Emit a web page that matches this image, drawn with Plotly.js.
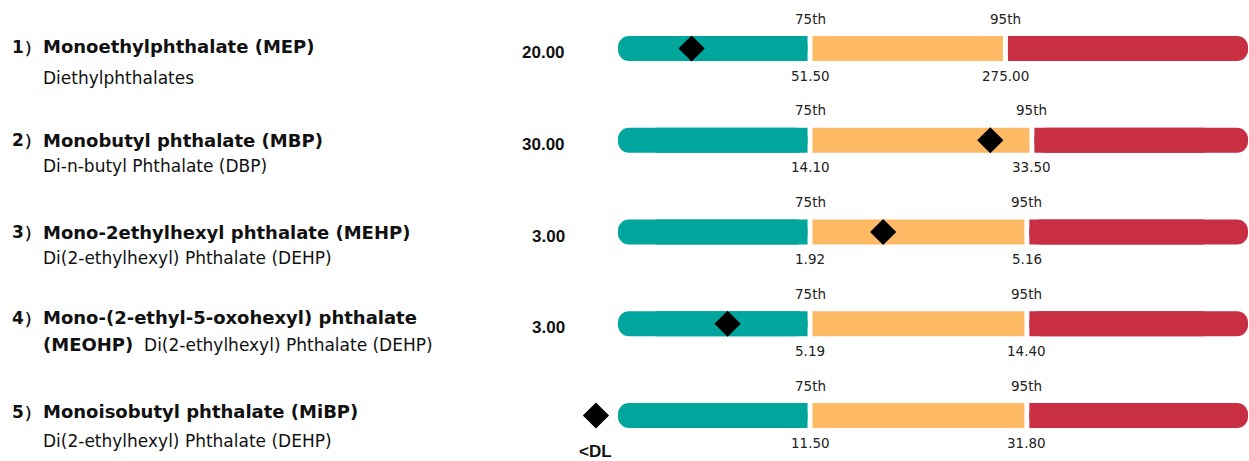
<!DOCTYPE html>
<html><head><meta charset="utf-8">
<script src="https://cdn.plot.ly/plotly-3.0.1.min.js"></script>
<style>html,body{margin:0;padding:0;background:#fff}#chart{width:1249px;height:461px}</style>
</head><body><div id="chart"></div>
<script>
// ---------- data ----------
const rowNums   = ["1", "2", "3", "4", "5"];
const metabolites = [
  "Monoethylphthalate (MEP)",
  "Monobutyl phthalate (MBP)",
  "Mono-2ethylhexyl phthalate (MEHP)",
  "Mono-(2-ethyl-5-oxohexyl) phthalate",
  "Monoisobutyl phthalate (MiBP)"
];
const parents = [
  "Diethylphthalates",
  "Di-n-butyl Phthalate (DBP)",
  "Di(2-ethylhexyl) Phthalate (DEHP)",
  "<span style=\"font-size:18px\"><b>(MEOHP)</b></span>  Di(2-ethylhexyl) Phthalate (DEHP)",
  "Di(2-ethylhexyl) Phthalate (DEHP)"
];
const results      = [20.00, 30.00, 3.00, 3.00, null];   // null = below detection limit
const resultLabels = ["20.00", "30.00", "3.00", "3.00", "<DL"];
const p75 = [51.50, 14.10, 1.92, 5.19, 11.50];
const p95 = [275.00, 33.50, 5.16, 14.40, 31.80];
const pctNames = ["75th", "95th"];

// ---------- layout constants (bar geometry, normalised 0..1 along the bar) ----------
const BAR_X0 = 618, BAR_W = 630, FIG_W = 1249, FIG_H = 461;
const ROW0_PX = 48.5, ROW_STEP = 91.75;
const b75 = [0.3048, 0.3048, 0.3048, 0.3048, 0.3048];
const b95 = [0.615, 0.657, 0.649, 0.649, 0.649];
const GAP = 0.0079;
const DL_X = -0.035;
const GREEN = "#00A69C", ORANGE = "#FDB964", RED = "#C92F42";
const FONT = "DejaVu Sans";
const NUMFONT = "Liberation Sans";

const rows = rowNums.map((_, i) => i);

function markerX(v, i) {
  if (v === null) return DL_X;
  const gEnd = b75[i] - GAP / 2, oStart = b75[i] + GAP / 2, oEnd = b95[i] - GAP / 2, rStart = b95[i] + GAP / 2;
  if (v <= p75[i]) return (v / p75[i]) * gEnd;
  if (v <= p95[i]) return oStart + (v - p75[i]) / (p95[i] - p75[i]) * (oEnd - oStart);
  return rStart + Math.min(1, (v - p95[i]) / p95[i]) * (1 - rStart);
}

const barW = 25 / ROW_STEP;
const gEnd = rows.map(i => b75[i] - GAP / 2);
const oStart = rows.map(i => b75[i] + GAP / 2);
const rStart = rows.map(i => b95[i] + GAP / 2);
const widths = rows.map(() => barW);
const hbar = (base, len, color, radius) => ({
  type: "bar", orientation: "h", y: rows, base: base, x: len, width: widths,
  marker: { color: color, cornerradius: radius, line: { width: 0 } }
});
const traces = [
  // green: rounded full segment, then square right part to keep inner edge square
  hbar(rows.map(() => 0), gEnd, GREEN, 11),
  hbar(gEnd.map(g => g * 0.2), gEnd.map(g => g * 0.8), GREEN, 0),
  // orange
  hbar(oStart, rows.map(i => b95[i] - b75[i] - GAP), ORANGE, 0),
  // red: rounded full segment, then square left part
  hbar(rStart, rStart.map(r => 1 - r), RED, 11),
  hbar(rStart, rStart.map(r => (1 - r) * 0.8), RED, 0),
  { type: "scatter", mode: "markers", y: rows, x: rows.map(i => markerX(results[i], i)),
    marker: { symbol: "diamond", size: 18, color: "#000", line: { color: "#000", width: 2 } },
    cliponaxis: false }
];

const ann = [];
const px = p => p / FIG_W;
const titleShift = [2, 0, 0, 6, 4];
const subShift   = [-29, -26, -26, -21, -25];
rows.forEach(i => {
  ann.push({ xref: "paper", yref: "y", x: px(10), y: i, yshift: titleShift[i], xanchor: "left", yanchor: "middle",
    text: "<b>" + rowNums[i] + "）</b>", showarrow: false, font: { family: FONT, size: 17, color: "#111" } });
  ann.push({ xref: "paper", yref: "y", x: px(41), y: i, yshift: titleShift[i], xanchor: "left", yanchor: "middle",
    text: "<b>" + metabolites[i] + "</b>", showarrow: false, font: { family: FONT, size: 18, color: "#111" } });
  ann.push({ xref: "paper", yref: "y", x: px(41), y: i, yshift: subShift[i], xanchor: "left", yanchor: "middle",
    text: parents[i], showarrow: false, font: { family: FONT, size: 17, color: "#111" } });
  // result label
  if (results[i] === null) {
    ann.push({ xref: "x", yref: "y", x: DL_X, y: i, yshift: -36, xanchor: "center", yanchor: "middle",
      text: "<b>" + resultLabels[i] + "</b>", showarrow: false, font: { family: NUMFONT, size: 17, color: "#111" } });
  } else {
    ann.push({ xref: "paper", yref: "y", x: px(567), y: i, yshift: -4, xanchor: "right", yanchor: "middle",
      text: "<b>" + resultLabels[i] + "</b>", showarrow: false, font: { family: NUMFONT, size: 17, color: "#111" } });
  }
  // percentile labels
  [[b75[i], p75[i], pctNames[0]], [b95[i], p95[i], pctNames[1]]].forEach(([bx, pv, nm]) => {
    ann.push({ xref: "x", yref: "y", x: bx, y: i, yshift: 30, xanchor: "center", yanchor: "middle",
      text: nm, showarrow: false, font: { family: FONT, size: 13.5, color: "#222" } });
    ann.push({ xref: "x", yref: "y", x: bx, y: i, yshift: -27, xanchor: "center", yanchor: "middle",
      text: pv.toFixed(2), showarrow: false, font: { family: FONT, size: 13.5, color: "#222" } });
  });
});

const layout = {
  width: FIG_W, height: FIG_H,
  margin: { l: 0, r: 0, t: 0, b: 0, pad: 0 },
  paper_bgcolor: "#fff", plot_bgcolor: "#fff",
  showlegend: false, barmode: "overlay", hovermode: false,
  xaxis: { range: [-BAR_X0 / BAR_W, (FIG_W - BAR_X0) / BAR_W], visible: false, fixedrange: true },
  yaxis: { range: [(FIG_H - ROW0_PX) / ROW_STEP, -ROW0_PX / ROW_STEP], visible: false, fixedrange: true },
  annotations: ann
};

Plotly.newPlot("chart", traces, layout, { displayModeBar: false, staticPlot: true });
</script>
</body></html>
